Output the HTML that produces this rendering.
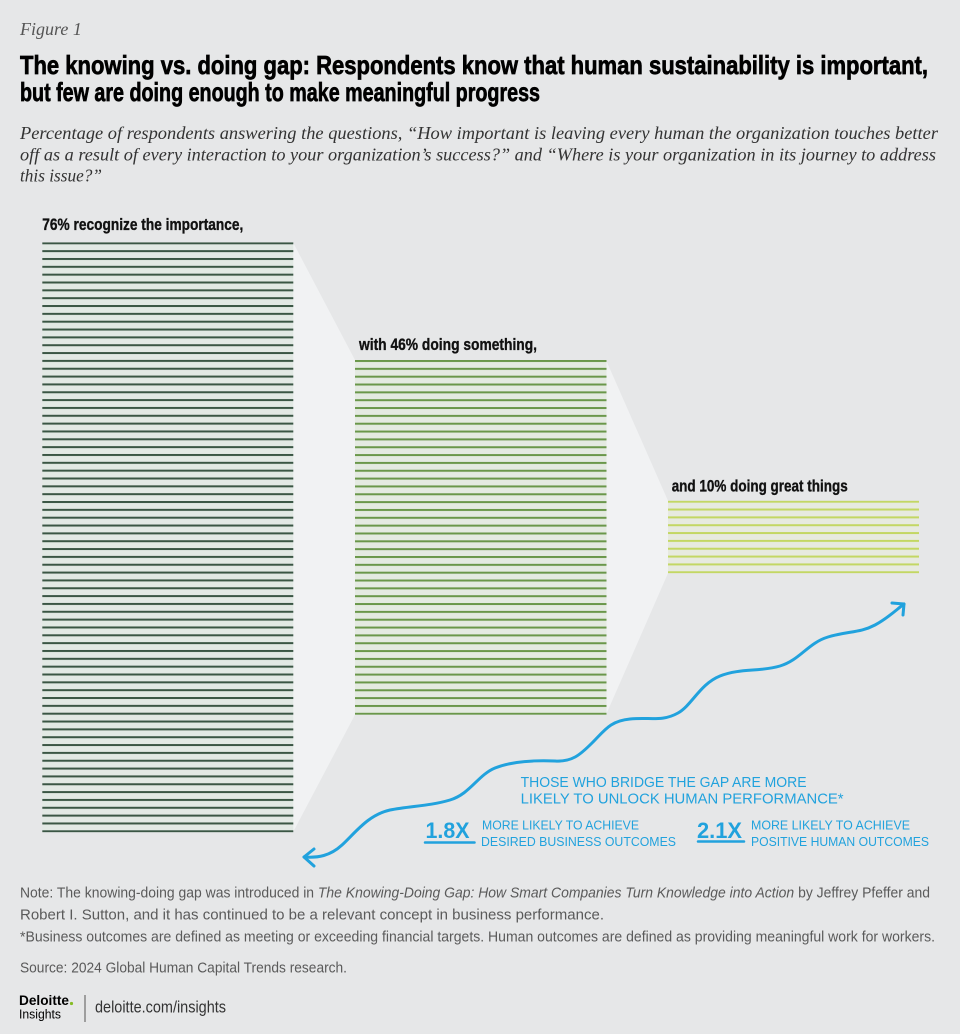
<!DOCTYPE html>
<html>
<head>
<meta charset="utf-8">
<style>
  html, body { margin: 0; padding: 0; background: #e6e7e8; }
  svg { display: block; }
</style>
</head>
<body>
<svg width="960" height="1034" viewBox="0 0 960 1034" xmlns="http://www.w3.org/2000/svg">
  <defs>
    <pattern id="p1" patternUnits="userSpaceOnUse" x="0" y="242.3" width="10" height="7.84">
      <rect x="0" y="0" width="10" height="7.84" fill="#e2e9e4"/>
      <rect x="0" y="0" width="10" height="2" fill="#3a5644"/>
    </pattern>
    <pattern id="p2" patternUnits="userSpaceOnUse" x="0" y="360" width="10" height="7.84">
      <rect x="0" y="0" width="10" height="7.84" fill="#e4eae1"/>
      <rect x="0" y="0" width="10" height="2" fill="#6a974a"/>
    </pattern>
    <pattern id="p3" patternUnits="userSpaceOnUse" x="0" y="500.7" width="10" height="7.84">
      <rect x="0" y="0" width="10" height="7.84" fill="#e7eadf"/>
      <rect x="0" y="0" width="10" height="2" fill="#c3d763"/>
    </pattern>
  </defs>

  <rect x="0" y="0" width="960" height="1034" fill="#e6e7e8"/>

  <!-- Header -->
  <text x="20" y="35" font-family="'Liberation Serif', serif" font-style="italic" font-size="18" fill="#555">Figure 1</text>
  <text x="20" y="74" font-family="'Liberation Sans', sans-serif" font-weight="bold" font-size="26" fill="#000" stroke="#000" stroke-width="0.7" textLength="908" lengthAdjust="spacingAndGlyphs">The knowing vs. doing gap: Respondents know that human sustainability is important,</text>
  <text x="20" y="101" font-family="'Liberation Sans', sans-serif" font-weight="bold" font-size="26" fill="#000" stroke="#000" stroke-width="0.7" textLength="520" lengthAdjust="spacingAndGlyphs">but few are doing enough to make meaningful progress</text>

  <text x="20" y="139" font-family="'Liberation Serif', serif" font-style="italic" font-size="17.5" fill="#333" textLength="918" lengthAdjust="spacingAndGlyphs">Percentage of respondents answering the questions, “How important is leaving every human the organization touches better</text>
  <text x="20" y="160.5" font-family="'Liberation Serif', serif" font-style="italic" font-size="17.5" fill="#333" textLength="916" lengthAdjust="spacingAndGlyphs">off as a result of every interaction to your organization’s success?” and “Where is your organization in its journey to address</text>
  <text x="20" y="181.5" font-family="'Liberation Serif', serif" font-style="italic" font-size="17.5" fill="#333" textLength="82" lengthAdjust="spacingAndGlyphs">this issue?”</text>

  <!-- Funnels -->
  <polygon points="293,242.3 355,360 355,714.8 293,832.3" fill="#f1f2f3"/>
  <polygon points="606,360 668,500.7 668,573.3 606,714.8" fill="#f1f2f3"/>

  <!-- Bars -->
  <rect x="42.3" y="242.3" width="251" height="590" fill="url(#p1)"/>
  <rect x="355" y="360" width="251.5" height="354.8" fill="url(#p2)"/>
  <rect x="668" y="500.7" width="251" height="72.6" fill="url(#p3)"/>

  <!-- Labels -->
  <g font-family="'Liberation Sans', sans-serif" font-weight="bold" font-size="17" fill="#111" stroke="#111" stroke-width="0.35">
    <text x="42.3" y="230" textLength="201" lengthAdjust="spacingAndGlyphs">76% recognize the importance,</text>
    <text x="359" y="350" textLength="178" lengthAdjust="spacingAndGlyphs">with 46% doing something,</text>
    <text x="671.7" y="491.7" textLength="176" lengthAdjust="spacingAndGlyphs">and 10% doing great things</text>
  </g>

  <!-- Blue curve -->
  <g fill="none" stroke="#21a2dd" stroke-width="3" stroke-linecap="round" stroke-linejoin="round">
    <path d="M304,857 C318,858 330,856 342,845 C356,832 368,815 390,810 C410,806 430,806 450,800 C470,794 478,775 495,768 C510,762 530,760 555,761 C572,762 580,755 592,743 C605,730 610,721 630,719 C650,717 662,722 678,713 C692,705 700,684 720,676 C740,668 760,672 780,666 C800,660 808,643 828,637 C848,631 860,633 875,625 C888,618 896,610 904,604"/>
    <path d="M314,849 L304,857 L314,866"/>
    <path d="M892,603 L904,604 L903,615"/>
  </g>

  <!-- Blue annotation text -->
  <g font-family="'Liberation Sans', sans-serif" fill="#21a2dd">
    <text x="520.6" y="787" font-size="14.5" textLength="286" lengthAdjust="spacingAndGlyphs">THOSE WHO BRIDGE THE GAP ARE MORE</text>
    <text x="520.6" y="803.5" font-size="14.5" textLength="323" lengthAdjust="spacingAndGlyphs">LIKELY TO UNLOCK HUMAN PERFORMANCE*</text>

    <text x="425.5" y="838" font-size="22" font-weight="bold" textLength="44" lengthAdjust="spacingAndGlyphs">1.8X</text>
    <text x="482" y="829.3" font-size="13" textLength="157" lengthAdjust="spacingAndGlyphs">MORE LIKELY TO ACHIEVE</text>
    <text x="481" y="846" font-size="13" textLength="195" lengthAdjust="spacingAndGlyphs">DESIRED BUSINESS OUTCOMES</text>

    <text x="697" y="838" font-size="22" font-weight="bold" textLength="45" lengthAdjust="spacingAndGlyphs">2.1X</text>
    <text x="751" y="829.3" font-size="13" textLength="159" lengthAdjust="spacingAndGlyphs">MORE LIKELY TO ACHIEVE</text>
    <text x="751" y="846" font-size="13" textLength="178" lengthAdjust="spacingAndGlyphs">POSITIVE HUMAN OUTCOMES</text>
  </g>
  <g stroke="#21a2dd" stroke-width="2.5" stroke-linecap="round">
    <line x1="425" y1="842.5" x2="474.5" y2="842.5"/>
    <line x1="698" y1="841.5" x2="744" y2="841.5"/>
  </g>

  <!-- Footer -->
  <g font-family="'Liberation Sans', sans-serif" font-size="15" fill="#5a5a5a">
    <text x="20" y="897.5" textLength="910" lengthAdjust="spacingAndGlyphs">Note: The knowing-doing gap was introduced in <tspan font-style="italic">The Knowing-Doing Gap: How Smart Companies Turn Knowledge into Action</tspan> by Jeffrey Pfeffer and</text>
    <text x="20" y="919.5" textLength="584" lengthAdjust="spacingAndGlyphs">Robert I. Sutton, and it has continued to be a relevant concept in business performance.</text>
    <text x="20" y="941.5" textLength="915" lengthAdjust="spacingAndGlyphs">*Business outcomes are defined as meeting or exceeding financial targets. Human outcomes are defined as providing meaningful work for workers.</text>
    <text x="20" y="972.5" textLength="327" lengthAdjust="spacingAndGlyphs">Source: 2024 Global Human Capital Trends research.</text>
  </g>

  <!-- Logo -->
  <text x="19" y="1005" font-family="'Liberation Sans', sans-serif" font-weight="bold" font-size="13.5" fill="#000" textLength="50" lengthAdjust="spacingAndGlyphs">Deloitte</text>
  <circle cx="71.5" cy="1003.5" r="1.6" fill="#86bc25"/>
  <text x="19" y="1018.5" font-family="'Liberation Sans', sans-serif" font-size="13" fill="#000" textLength="42" lengthAdjust="spacingAndGlyphs">Insights</text>
  <line x1="85" y1="995" x2="85" y2="1022" stroke="#555" stroke-width="1"/>
  <text x="95" y="1012.5" font-family="'Liberation Sans', sans-serif" font-size="16.5" fill="#333" textLength="131" lengthAdjust="spacingAndGlyphs">deloitte.com/insights</text>
</svg>
</body>
</html>
